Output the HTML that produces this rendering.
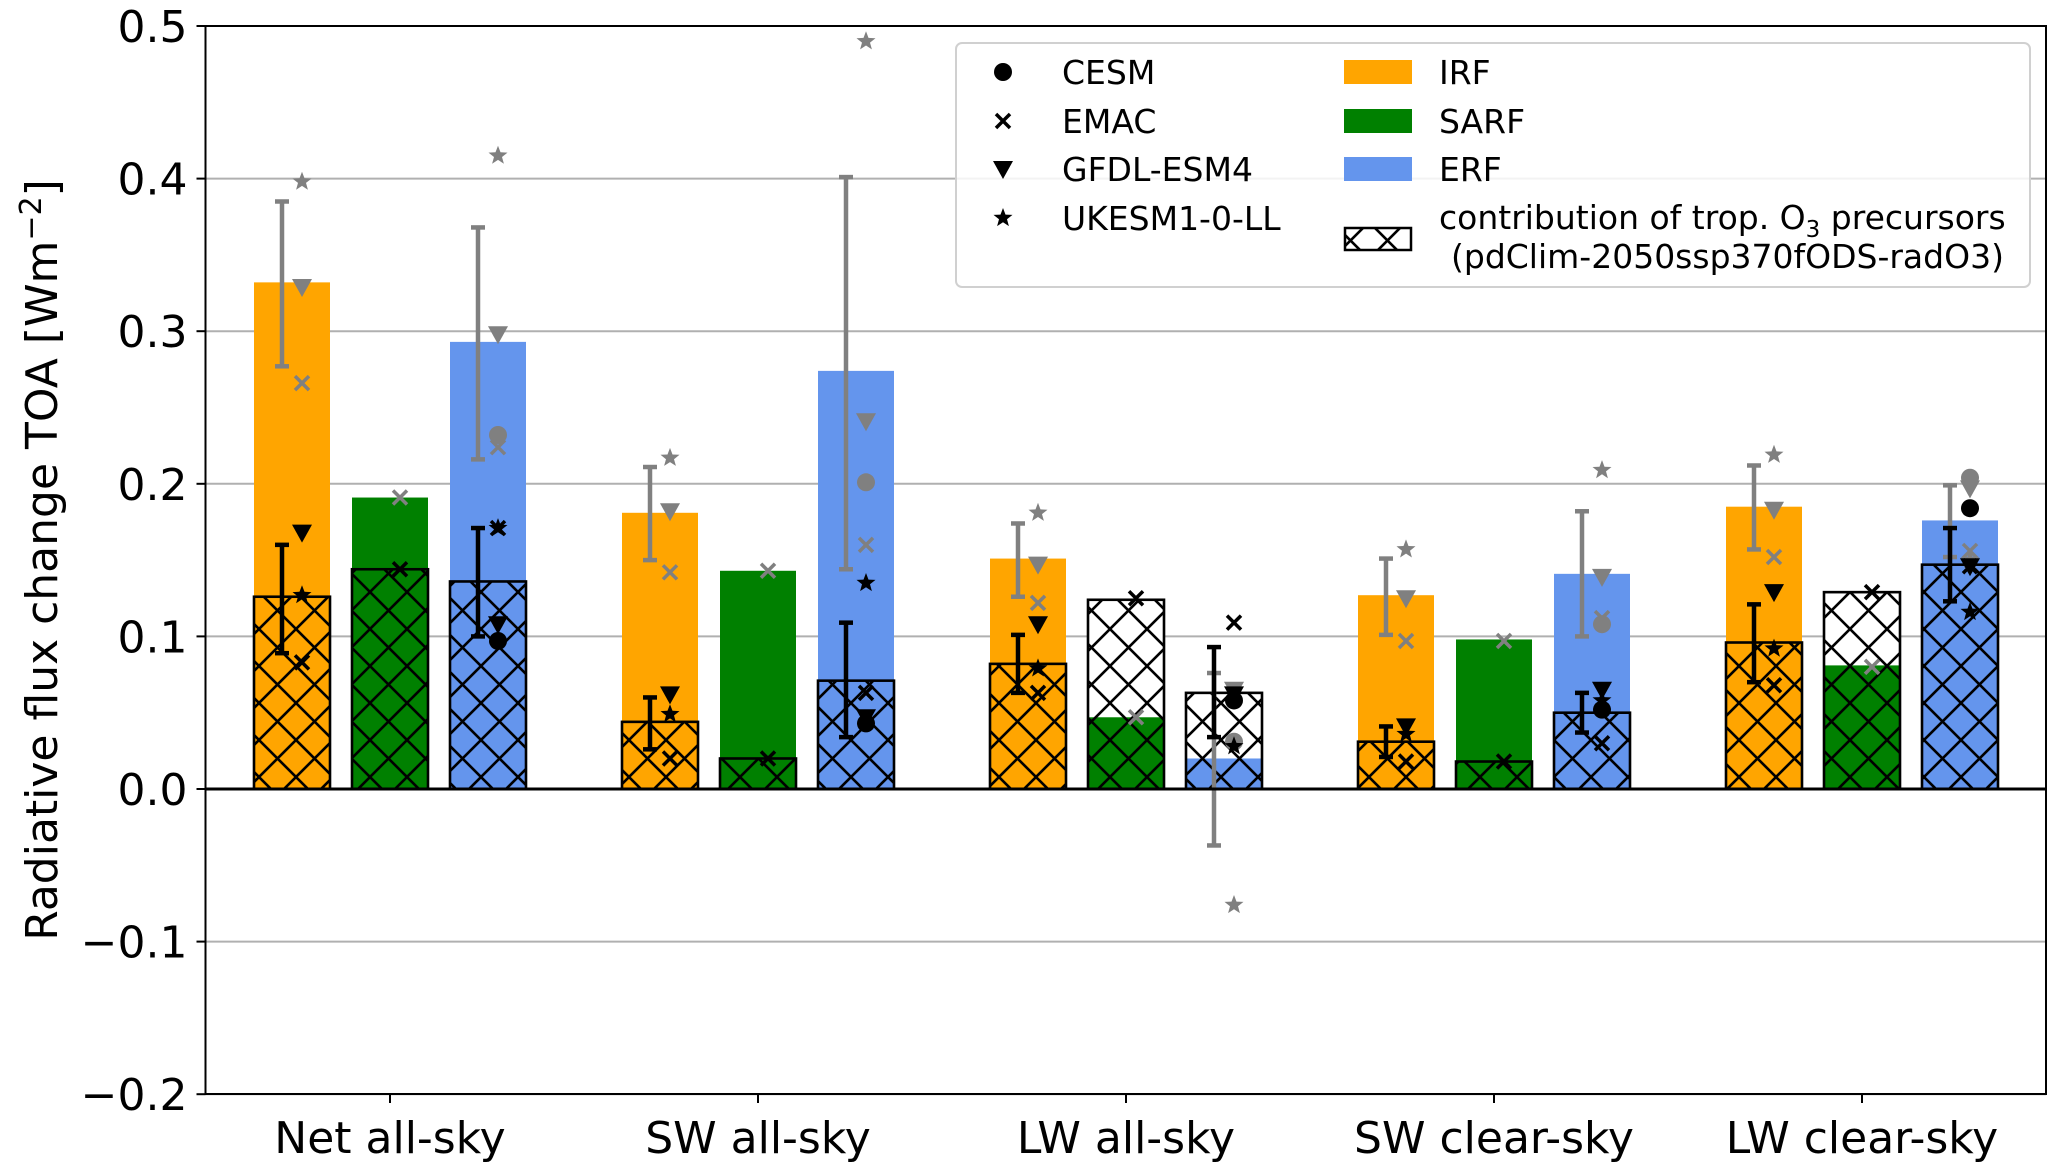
<!DOCTYPE html>
<html><head><meta charset="utf-8"><style>
html,body{margin:0;padding:0;background:#fff;}
svg text{font-family:"DejaVu Sans","Liberation Sans",sans-serif;}
</style></head><body>
<svg id="chart" width="2067" height="1168" viewBox="0 0 2067 1168" xmlns="http://www.w3.org/2000/svg">
<defs>
<pattern id="xhatch" patternUnits="userSpaceOnUse" width="37" height="37">
<path d="M0,0 L37,37 M37,0 L0,37 M-5,32 L5,42 M32,-5 L42,5 M-5,5 L5,-5 M32,42 L42,32" stroke="#000" stroke-width="2.6" fill="none"/>
</pattern>
</defs>
<g id="grid"></g>
<g id="bars"></g>
<g id="marks"></g>
<g id="axes"></g>
<g id="legend"></g>
</svg>
<script>
const categories=["Net all-sky","SW all-sky","LW all-sky","SW clear-sky","LW clear-sky"];
const yTicks=[-0.2,-0.1,0.0,0.1,0.2,0.3,0.4,0.5];
const yTickLabels=["\u22120.2","\u22120.1","0.0","0.1","0.2","0.3","0.4","0.5"];
const irf=[0.332,0.181,0.151,0.127,0.185];
const sarf=[0.191,0.143,0.047,0.098,0.081];
const erf=[0.293,0.274,0.020,0.141,0.176];
const irfHatch=[0.126,0.044,0.082,0.031,0.096];
const sarfHatch=[0.144,0.020,0.124,0.018,0.129];
const erfHatch=[0.136,0.071,0.063,0.050,0.147];
const irfErrTotLo=[0.277,0.150,0.126,0.101,0.157];
const irfErrTotHi=[0.385,0.211,0.174,0.151,0.212];
const irfErrHatLo=[0.089,0.026,0.063,0.021,0.070];
const irfErrHatHi=[0.160,0.060,0.101,0.041,0.121];
const erfErrTotLo=[0.216,0.144,-0.037,0.100,0.152];
const erfErrTotHi=[0.368,0.401,0.076,0.182,0.199];
const erfErrHatLo=[0.100,0.034,0.034,0.037,0.123];
const erfErrHatHi=[0.171,0.109,0.093,0.063,0.171];
const cesmErfTot=[0.232,0.201,0.031,0.108,0.204];
const cesmErfHat=[0.097,0.043,0.058,0.052,0.184];
const emacIrfTot=[0.266,0.142,0.122,0.097,0.152];
const emacIrfHat=[0.083,0.020,0.063,0.018,0.068];
const emacSarfTot=[0.191,0.143,0.047,0.097,0.080];
const emacSarfHat=[0.144,0.020,0.125,0.018,0.129];
const emacErfTot=[0.224,0.160,0.062,0.112,0.156];
const emacErfHat=[0.171,0.063,0.109,0.030,0.146];
const gfdlIrfTot=[0.329,0.182,0.147,0.125,0.183];
const gfdlIrfHat=[0.168,0.062,0.108,0.041,0.129];
const gfdlErfTot=[0.298,0.241,0.065,0.139,0.197];
const gfdlErfHat=[0.108,0.047,0.062,0.065,0.146];
const ukIrfTot=[0.398,0.217,0.181,0.157,0.219];
const ukIrfHat=[0.127,0.049,0.079,0.036,0.092];
const ukErfTot=[0.415,0.490,-0.076,0.209,0.150];
const ukErfHat=[0.171,0.135,0.028,0.058,0.116];

const NS="http://www.w3.org/2000/svg";
const L=205.5,R=2046,T=26,B=1094;
const y0=789,pxPer=1526;
function y(v){return y0-v*pxPer;}
function xc(i){return 390+i*368;}
const off=[-98,0,98], bw=76;
function mk(tag,attrs,parent){const e=document.createElementNS(NS,tag);for(const k in attrs)e.setAttribute(k,attrs[k]);parent.appendChild(e);return e;}
const G=document.getElementById('grid'),BR=document.getElementById('bars'),M=document.getElementById('marks'),A=document.getElementById('axes'),LG=document.getElementById('legend');

yTicks.forEach((t,i)=>{
  if(t!==0){const g=mk('line',{x1:L,x2:R,y1:y(t),y2:y(t),stroke:'#b0b0b0','stroke-width':2},G);
  
  }
  const tk=mk('line',{x1:L-9,x2:L,y1:y(t),y2:y(t),stroke:'#000','stroke-width':2},A);
  
  
  const tx=mk('text',{x:L-18,y:y(t)+16,'text-anchor':'end','font-size':44},A);
  tx.textContent=yTickLabels[i];
  
  
});
const colors=['#ffa500','#008000','#6495ed'];
const tots=[irf,sarf,erf], hats=[irfHatch,sarfHatch,erfHatch], kinds=['irf','sarf','erf'];
categories.forEach((c,i)=>{
  for(let k=0;k<3;k++){
    const cx=xc(i)+off[k], x=cx-bw/2;
    const h=hats[k][i], t=tots[k][i];
    const w=mk('rect',{x:x,y:y(h),width:bw,height:y(0)-y(h),fill:'#fff'},BR);
    
    
    const r=mk('rect',{x:x,y:Math.min(y(t),y(0)),width:bw,height:Math.abs(y(0)-y(t)),fill:colors[k]},BR);
    
    
    const p=mk('rect',{x:x,y:y(h),width:bw,height:y(0)-y(h),fill:'url(#xhatch)',stroke:'#000','stroke-width':2.6},BR);
    
    
  }
  const xl=mk('text',{x:xc(i),y:1153,'text-anchor':'middle','font-size':44},A);
  xl.textContent=c;
  
  
  const xt=mk('line',{x1:xc(i),x2:xc(i),y1:B,y2:B+9,stroke:'#000','stroke-width':2},A);
  
  
});
function errbar(x,lo,hi,col){
  const g=mk('g',{},M);
  
  
  mk('line',{x1:x,x2:x,y1:y(lo),y2:y(hi),stroke:col,'stroke-width':4.5},g);
  mk('line',{x1:x-7,x2:x+7,y1:y(lo),y2:y(lo),stroke:col,'stroke-width':4.5},g);
  mk('line',{x1:x-7,x2:x+7,y1:y(hi),y2:y(hi),stroke:col,'stroke-width':4.5},g);
}
function marker(type,x,yy,col,parent,name){
  let e;
  if(type==='o') e=mk('circle',{cx:x,cy:yy,r:9,fill:col},parent);
  else if(type==='x') e=mk('path',{d:`M${x-7},${yy-7}L${x+7},${yy+7}M${x+7},${yy-7}L${x-7},${yy+7}`,stroke:col,'stroke-width':3.5,fill:'none'},parent);
  else if(type==='v') e=mk('path',{d:`M${x-10},${yy-8}L${x+10},${yy-8}L${x},${yy+10}Z`,fill:col},parent);
  else { let d='';for(let j=0;j<10;j++){const rr=j%2?4.2:10,a=-Math.PI/2+j*Math.PI/5;d+=(j?'L':'M')+(x+rr*Math.cos(a)).toFixed(1)+','+(yy+rr*Math.sin(a)).toFixed(1);} e=mk('path',{d:d+'Z',fill:col},parent);}
  
  
  return e;
}
const gray='#808080';
categories.forEach((c,i)=>{
  const xi=xc(i)-98, xs=xc(i), xe=xc(i)+98;
  errbar(xi-10,irfErrTotLo[i],irfErrTotHi[i],gray);
  errbar(xe-10,erfErrTotLo[i],erfErrTotHi[i],gray);
  errbar(xi-10,irfErrHatLo[i],irfErrHatHi[i],'#000');
  errbar(xe-10,erfErrHatLo[i],erfErrHatHi[i],'#000');
  marker('x',xi+10,y(emacIrfTot[i]),gray,M,'emac-irf-marker');
  marker('v',xi+10,y(gfdlIrfTot[i]),gray,M,'gfdl-irf-marker');
  marker('*',xi+10,y(ukIrfTot[i]),gray,M,'ukesm-irf-marker');
  marker('x',xs+10,y(emacSarfTot[i]),gray,M,'emac-sarf-marker');
  marker('o',xe+10,y(cesmErfTot[i]),gray,M,'cesm-erf-marker');
  marker('x',xe+10,y(emacErfTot[i]),gray,M,'emac-erf-marker');
  marker('v',xe+10,y(gfdlErfTot[i]),gray,M,'gfdl-erf-marker');
  marker('*',xe+10,y(ukErfTot[i]),gray,M,'ukesm-erf-marker');
  marker('x',xi+10,y(emacIrfHat[i]),'#000',M,'emac-irf-precursor-marker');
  marker('v',xi+10,y(gfdlIrfHat[i]),'#000',M,'gfdl-irf-precursor-marker');
  marker('*',xi+10,y(ukIrfHat[i]),'#000',M,'ukesm-irf-precursor-marker');
  marker('x',xs+10,y(emacSarfHat[i]),'#000',M,'emac-sarf-precursor-marker');
  marker('o',xe+10,y(cesmErfHat[i]),'#000',M,'cesm-erf-precursor-marker');
  marker('x',xe+10,y(emacErfHat[i]),'#000',M,'emac-erf-precursor-marker');
  marker('v',xe+10,y(gfdlErfHat[i]),'#000',M,'gfdl-erf-precursor-marker');
  marker('*',xe+10,y(ukErfHat[i]),'#000',M,'ukesm-erf-precursor-marker');
});
const zl=mk('line',{x1:L,x2:R,y1:y(0),y2:y(0),stroke:'#000','stroke-width':3},A);


const fr=mk('rect',{x:L,y:T,width:R-L,height:B-T,fill:'none',stroke:'#000','stroke-width':2},A);


const yl=mk('text',{x:0,y:0,'text-anchor':'middle','font-size':44,transform:'translate(57,560) rotate(-90)'},A);
yl.innerHTML='Radiative flux change TOA [Wm<tspan dy="-16" font-size="30">\u22122</tspan><tspan dy="16">]</tspan>';



const lb=mk('rect',{x:956,y:43,width:1074,height:244,rx:6,fill:'#fff','fill-opacity':0.85,stroke:'#d0d0d0','stroke-width':2},LG);


const models=[['o','CESM'],['x','EMAC'],['v','GFDL-ESM4'],['*','UKESM1-0-LL']];
const rowsY=[72,121,169,218];
models.forEach((m,j)=>{
  marker(m[0],1003,rowsY[j],'#000',LG,'legend-marker-'+m[1].toLowerCase());
  const t=mk('text',{x:1062,y:rowsY[j]+12,'font-size':33},LG);
  t.textContent=m[1];
  
  
});
const patches=[['#ffa500','IRF'],['#008000','SARF'],['#6495ed','ERF']];
patches.forEach((p,j)=>{
  const r=mk('rect',{x:1344,y:rowsY[j]-12,width:68,height:24,fill:p[0]},LG);
  
  
  const t=mk('text',{x:1439,y:rowsY[j]+12,'font-size':33},LG);
  t.textContent=p[1];
  
  
});
const hp=mk('rect',{x:1345,y:228,width:66,height:22,fill:'url(#xhatch)',stroke:'#000','stroke-width':2.5},LG);


const t1=mk('text',{x:1439,y:229,'font-size':33},LG);
t1.innerHTML='contribution of trop. O<tspan dy="8" font-size="23">3</tspan><tspan dy="-8"> precursors</tspan>';


const t2=mk('text',{x:1451,y:268,'font-size':33},LG);
t2.textContent='(pdClim-2050ssp370fODS-radO3)';


</script>
</body></html>
